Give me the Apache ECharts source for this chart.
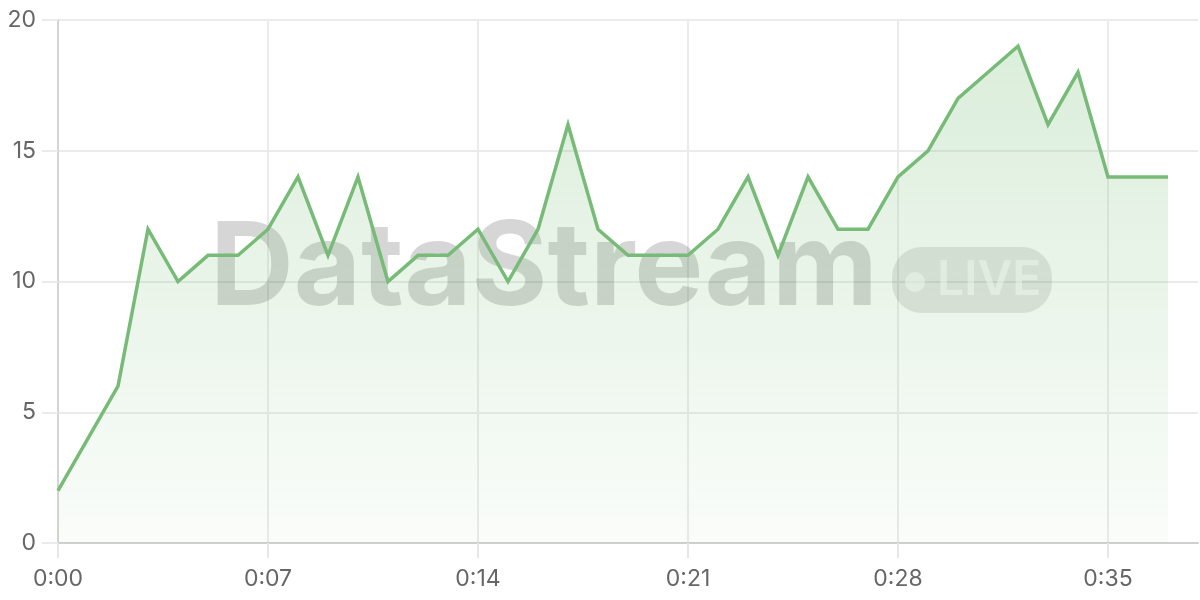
<!DOCTYPE html>
<html>
<head>
<meta charset="utf-8">
<script src="https://cdn.jsdelivr.net/npm/echarts@6/dist/echarts.min.js"></script>
<style>
html,body{margin:0;padding:0;background:#fff;}
#chart{width:1200px;height:600px;}
</style>
</head>
<body>
<div id="chart"></div>
<script>
const seconds = [0,1,2,3,4,5,6,7,8,9,10,11,12,13,14,15,16,17,18,19,20,21,22,23,24,25,26,27,28,29,30,31,32,33,34,35,36,37,38];
const values = [2,4,6,12,10,11,11,12,14,11,14,10,11,11,12,10,12,16,12,11,11,11,12,14,11,14,12,12,14,15,17,18,19,16,18,14,14,14];
const yTicks = [0,5,10,15,20];
const watermarkText = 'DataStream';
const badgeText = 'LIVE';

function fmtTime(s){
  s = Number(s);
  const m = Math.floor(s/60), r = s%60;
  return m + ':' + (r<10?'0':'') + r;
}

const chart = echarts.init(document.getElementById('chart'));
chart.setOption({
  animation:false,
  grid:{left:58,right:2,top:20,bottom:57,containLabel:false},
  xAxis:{
    type:'category',
    data:seconds.map(String),
    boundaryGap:false,
    axisLine:{show:true,lineStyle:{color:'#cfcfcf',width:2}},
    axisTick:{show:true,interval:6,length:15,lineStyle:{color:'#e6e6e6',width:2}},
    axisLabel:{interval:6,margin:25,color:'#666',fontSize:23,fontFamily:'Inter',formatter:fmtTime},
    splitLine:{show:true,interval:6,lineStyle:{color:'#ebebeb',width:2}}
  },
  yAxis:{
    type:'value',
    min:yTicks[0],max:yTicks[yTicks.length-1],interval:5,
    axisLine:{show:true,lineStyle:{color:'#d4d4d4',width:2}},
    axisTick:{show:true,length:16,lineStyle:{color:'#ebebeb',width:2}},
    axisLabel:{margin:22,color:'#666',fontSize:23,fontFamily:'Inter'},
    splitLine:{show:true,lineStyle:{color:'#ebebeb',width:2}}
  },
  graphic:[
    {type:'text',z:1,x:210,y:270,style:{text:watermarkText,fill:'rgba(0,0,0,0.16)',font:'bold 116px Inter',verticalAlign:'middle',align:'left'}},
    {type:'rect',z:1,shape:{x:892,y:247,width:160,height:66,r:30},style:{fill:'rgba(0,0,0,0.1)'}},
    {type:'circle',z:1,shape:{cx:915,cy:282,r:10},style:{fill:'rgba(255,255,255,0.6)'}},
    {type:'text',z:1,x:937,y:281,style:{text:badgeText,fill:'rgba(255,255,255,0.6)',font:'600 48px Inter',verticalAlign:'middle',align:'left'}}
  ],
  series:[{
    type:'line',
    data:values,
    z:3,
    showSymbol:false,
    symbol:'none',
    lineStyle:{color:'#78bb78',width:3.5,join:'miter'},
    areaStyle:{color:new echarts.graphic.LinearGradient(0,0,0,1,[
      {offset:0,color:'rgba(120,190,120,0.38)'},
      {offset:1,color:'rgba(120,190,120,0.06)'}
    ])}
  }]
});
</script>
</body>
</html>
